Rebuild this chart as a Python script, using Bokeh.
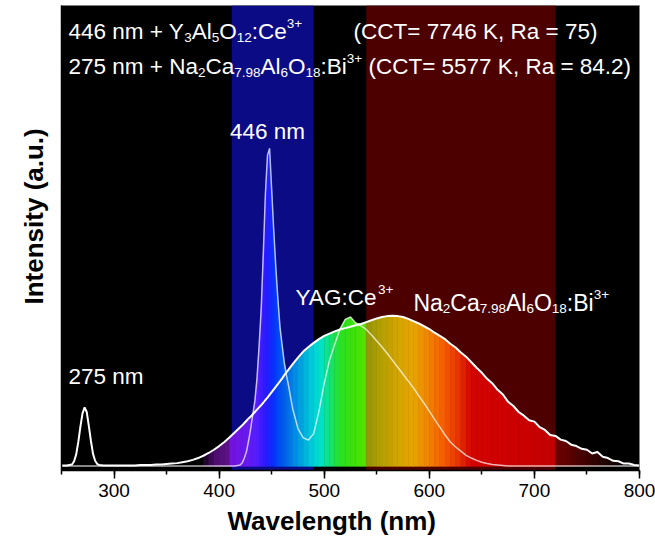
import numpy as np
from bokeh.plotting import figure
from bokeh.models import Range1d, Label, BoxAnnotation, SingleIntervalTicker, FixedTicker, Title
from bokeh.embed import file_html
from bokeh.resources import INLINE

# ---------------- data ----------------
wavelength = [250, 255, 260, 262, 264, 266, 268, 270, 272, 274, 276, 278, 280, 282, 284, 286, 290,
              295, 300, 305, 310, 315, 320, 325, 330, 335, 340, 345, 350, 355, 360, 365, 370, 375,
              380, 385, 390, 395, 400, 405, 410, 415, 420,
              422, 424, 426, 428, 430, 432, 434, 436, 438, 440, 442, 444, 446, 448, 450, 452, 454,
              456, 458, 460, 462, 464, 466, 468, 470,
              475, 480, 485, 490, 495, 500, 505, 510, 515, 520, 525, 530, 535, 540, 545, 550, 555,
              560, 565, 570, 575, 580, 585, 590, 595, 600, 605, 610, 615, 620, 625, 630, 635, 640,
              645, 650, 655, 660, 665, 670, 675, 680, 685, 690, 695, 700, 705, 710, 715, 720, 725,
              730, 735, 740, 745, 750, 755, 760, 765, 770, 775, 780, 785, 790, 795, 800]

# 446 nm chip + Y3Al5O12:Ce3+
int_yag = [0.001] * 42 + [0.003] + [
    0.008, 0.018, 0.032, 0.055, 0.082, 0.112, 0.142, 0.19, 0.26, 0.34, 0.46, 0.59, 0.675, 0.69,
    0.6, 0.51, 0.43, 0.36, 0.3, 0.262, 0.225, 0.198, 0.176, 0.15, 0.125,
    0.082, 0.062, 0.057, 0.071, 0.12, 0.18, 0.23, 0.265, 0.298, 0.319, 0.324, 0.311, 0.305,
    0.297, 0.285, 0.272, 0.259, 0.245, 0.23, 0.215, 0.2, 0.185, 0.17, 0.153, 0.137, 0.12,
    0.102, 0.085, 0.068, 0.053, 0.042, 0.033, 0.024, 0.018, 0.013, 0.009, 0.006, 0.004, 0.003,
    0.002] + [0.001] * 26

# 275 nm chip + Na2Ca7.98Al6O18:Bi3+
int_nca = [
    0.002, 0.002, 0.004, 0.011, 0.026, 0.053, 0.086, 0.115, 0.128, 0.118, 0.088, 0.055, 0.027,
    0.012, 0.005, 0.003, 0.002,
    0.002, 0.002, 0.002, 0.002, 0.002, 0.002, 0.003, 0.003, 0.003, 0.004, 0.004, 0.005, 0.006,
    0.007, 0.009, 0.011, 0.014, 0.018, 0.023, 0.029, 0.036, 0.044, 0.053, 0.063, 0.074, 0.085,
    0.089, 0.094, 0.099, 0.104, 0.108, 0.113, 0.118, 0.123, 0.128, 0.133, 0.138, 0.144, 0.149,
    0.155, 0.161, 0.167, 0.173, 0.179, 0.185, 0.191, 0.198, 0.204, 0.21, 0.216, 0.222,
    0.236, 0.249, 0.259, 0.268, 0.276, 0.283, 0.288, 0.293, 0.297, 0.3, 0.303, 0.306, 0.309,
    0.313, 0.317, 0.321, 0.324, 0.326, 0.327, 0.326, 0.324, 0.32, 0.315, 0.31, 0.304, 0.298,
    0.29, 0.283, 0.276, 0.266, 0.258, 0.247, 0.238, 0.226, 0.214, 0.203,
    0.19, 0.18, 0.166, 0.156, 0.14, 0.131, 0.118, 0.11, 0.1, 0.097,
    0.085, 0.079, 0.068, 0.066, 0.058, 0.055, 0.047, 0.044, 0.038, 0.036,
    0.028, 0.031, 0.021, 0.018, 0.012, 0.011, 0.006, 0.006, 0.003, 0.002]

band_left = [412, 540]
band_right = [490, 720]
band_colors = ["#0b0b86", "#4c0000"]

x_ticks_major = 100

# ---------------- styling: spectral colour stops ----------------
color_stops = [
    (250, (0, 0, 0)), (383, (0, 0, 0)), (390, (50, 6, 72)), (398, (80, 14, 115)),
    (410, (95, 18, 140)), (412, (115, 20, 220)), (425, (110, 25, 240)), (435, (90, 30, 255)),
    (445, (40, 30, 255)), (452, (10, 50, 255)), (460, (0, 90, 240)), (470, (0, 130, 230)),
    (480, (0, 170, 220)), (490, (0, 210, 215)), (497, (0, 225, 200)), (505, (20, 225, 120)),
    (515, (40, 225, 40)), (525, (55, 225, 15)), (539, (85, 225, 0)), (541, (150, 150, 10)),
    (555, (180, 160, 0)), (570, (210, 165, 0)), (585, (230, 165, 0)), (600, (240, 130, 0)),
    (615, (245, 90, 0)), (628, (230, 50, 0)), (640, (210, 5, 0)), (680, (205, 0, 0)),
    (719, (195, 0, 0)), (721, (110, 0, 0)), (740, (80, 0, 0)), (760, (45, 0, 0)),
    (780, (12, 0, 0)), (800, (0, 0, 0))]
stop_w = np.array([s[0] for s in color_stops], dtype=float)
stop_c = np.array([s[1] for s in color_stops], dtype=float)


def spectral_color(w):
    r, g, b = (int(round(np.interp(w, stop_w, stop_c[:, k]))) for k in range(3))
    return "#%02x%02x%02x" % (r, g, b)


FONT = "Liberation Sans"
# Arial / Liberation Sans advance widths (per 1000 em) for text layout
ADV = {" ": 278, "(": 333, ")": 333, "+": 584, ",": 278, ".": 278, ":": 278, "=": 584,
       "A": 667, "B": 667, "C": 722, "G": 778, "K": 667, "N": 722, "O": 778, "R": 722,
       "T": 611, "Y": 667, "a": 556, "e": 556, "i": 222, "l": 222, "m": 833, "n": 556}


def text_w(s, size):
    return sum(ADV.get(ch, 556) for ch in s) / 1000.0 * size


p = figure(width=655, height=544, x_range=Range1d(250, 800), y_range=Range1d(-0.009, 1.0),
           output_backend="svg", toolbar_location=None,
           min_border_left=61, min_border_right=16, min_border_top=5, min_border_bottom=74)
p.background_fill_color = "black"
p.border_fill_color = "white"
p.outline_line_color = "#808080"
p.grid.visible = False

for l, r, c in zip(band_left, band_right, band_colors):
    p.add_layout(BoxAnnotation(left=l, right=r, fill_color=c, fill_alpha=1.0,
                               line_color=None, level="underlay"))

# coloured area under the envelope of both spectra
w = np.array(wavelength, dtype=float)
env = np.maximum(np.array(int_yag), np.array(int_nca))
xs, ys, cols = [], [], []
for i in range(len(w) - 1):
    xs.append([w[i], w[i], w[i + 1], w[i + 1]])
    ys.append([0, env[i], env[i + 1], 0])
    cols.append(spectral_color(0.5 * (w[i] + w[i + 1])))
p.patches(xs, ys, fill_color=cols, line_color=cols, line_width=0.6)

p.line(wavelength, int_yag, line_color="white", line_alpha=0.7, line_width=1.5)
p.line(wavelength, int_nca, line_color="white", line_width=2)

# axes
xa = p.xaxis[0]
xa.ticker = SingleIntervalTicker(interval=x_ticks_major, num_minor_ticks=2)
xa.axis_line_color = "black"
xa.axis_line_width = 1.5
xa.major_tick_line_color = "black"
xa.major_tick_line_width = 1.5
xa.minor_tick_line_color = "black"
xa.minor_tick_line_width = 1.5
xa.major_tick_out = 8
xa.major_tick_in = 0
xa.minor_tick_out = 4
xa.minor_tick_in = 0
xa.major_label_text_font = FONT
xa.major_label_text_font_size = "19px"
xa.major_label_text_color = "black"
xa.major_label_standoff = 5

ya = p.yaxis[0]
ya.ticker = FixedTicker(ticks=[])
ya.axis_line_color = "black"
ya.axis_line_width = 1.5
ya.major_tick_out = 0
ya.minor_tick_out = 0

# axis titles (placed as in the reference, off-centre)
p.add_layout(Title(text="Wavelength (nm)", align="left", offset=166, standoff=9,
                   text_color="black", text_font=FONT, text_font_size="26px",
                   text_font_style="bold"), "below")
p.add_layout(Title(text="Intensity (a.u.)", align="left", offset=166, standoff=26,
                   text_color="black", text_font=FONT, text_font_size="26px",
                   text_font_style="bold"), "left")

SIZE = 22.5
SMALL = 13.5


def rich_label(x, y, parts, size=SIZE, small=SMALL):
    off = 0.0
    for txt, kind in parts:
        fs = size if kind == "n" else small
        body = txt.strip(" ")
        lead = len(txt) - len(txt.lstrip(" "))
        trail = len(txt) - len(txt.rstrip(" "))
        off += lead * 0.278 * fs
        dy = {"n": 0, "sub": -6, "sup": 8}[kind]
        if body:
            p.add_layout(Label(x=x, y=y, x_offset=off, y_offset=dy, text=body,
                               text_color="white", text_font=FONT, text_font_size=f"{fs}px",
                               text_align="left", text_baseline="alphabetic"))
        off += text_w(body, fs) + trail * 0.278 * fs


rich_label(256.7, 0.943, [("446 nm + Y", "n"), ("3", "sub"), ("Al", "n"), ("5", "sub"),
                          ("O", "n"), ("12", "sub"), (":Ce", "n"), ("3+", "sup")])
rich_label(527.9, 0.943, [("(CCT= 7746 K, Ra = 75)", "n")])
rich_label(256.7, 0.867, [("275 nm + Na", "n"), ("2", "sub"), ("Ca", "n"), ("7.98", "sub"),
                          ("Al", "n"), ("6", "sub"), ("O", "n"), ("18", "sub"), (":Bi", "n"),
                          ("3+", "sup"), (" (CCT= 5577 K, Ra = 84.2)", "n")])
p.add_layout(Label(x=446.0, y=0.727, text="446 nm", text_color="white", text_font=FONT,
                   text_font_size=f"{SIZE}px", text_align="center", text_baseline="alphabetic"))
rich_label(256.7, 0.195, [("275 nm", "n")])
rich_label(472.7, 0.366, [("YAG:Ce", "n"), ("3+", "sup")])
rich_label(584.9, 0.355, [("Na", "n"), ("2", "sub"), ("Ca", "n"), ("7.98", "sub"), ("Al", "n"),
                          ("6", "sub"), ("O", "n"), ("18", "sub"), (":Bi", "n"), ("3+", "sup")],
           size=23)

open("out.html", "w").write(file_html(p, INLINE))
